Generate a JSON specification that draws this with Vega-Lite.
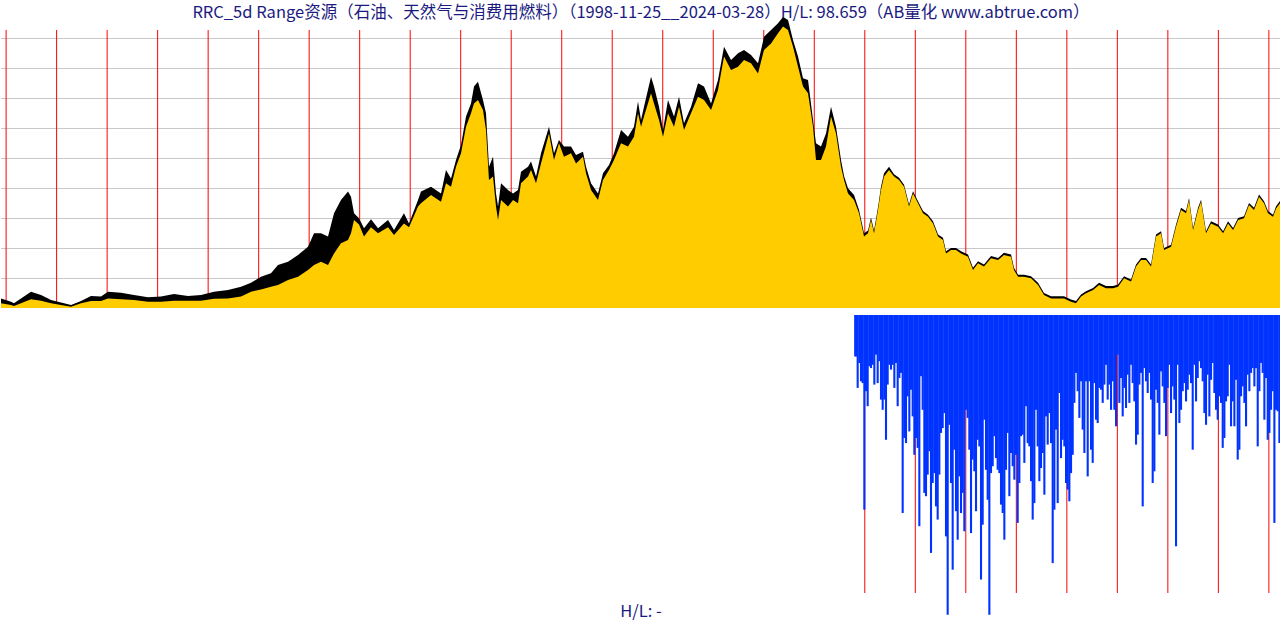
{
  "$schema": "https://vega.github.io/schema/vega-lite/v6.json",
  "padding": 0,
  "autosize": {"type": "pad"},
  "background": "white",
  "spacing": 4,
  "config": {"view": {"stroke": null}, "font": "Noto Sans CJK SC"},
  "datasets": {
    "grid": [{"v":10},{"v":20},{"v":30},{"v":40},{"v":50},{"v":60},{"v":70},{"v":80},{"v":90}],
    "years": [{"y":1999},{"y":2000},{"y":2001},{"y":2002},{"y":2003},{"y":2004},{"y":2005},{"y":2006},{"y":2007},{"y":2008},{"y":2009},{"y":2010},{"y":2011},{"y":2012},{"y":2013},{"y":2014},{"y":2015},{"y":2016},{"y":2017},{"y":2018},{"y":2019},{"y":2020},{"y":2021},{"y":2022},{"y":2023},{"y":2024}],
    "price": [
      {"t":1998.899,"c":1.6,"h":3.2},{"t":1999.097,"c":1.0,"h":2.1},{"t":1999.156,"c":0.7,"h":1.6},{"t":1999.295,"c":1.6,"h":3.2},{"t":1999.493,"c":2.9,"h":5.4},{"t":1999.691,"c":2.4,"h":4.3},{"t":1999.889,"c":1.6,"h":2.7},{"t":2000.087,"c":1.0,"h":1.8},{"t":2000.285,"c":0.4,"h":1.0},{"t":2000.483,"c":1.6,"h":2.3},{"t":2000.681,"c":2.3,"h":4.0},{"t":2000.879,"c":2.3,"h":3.8},{"t":2001.017,"c":3.2,"h":5.4},{"t":2001.275,"c":2.9,"h":5.1},{"t":2001.532,"c":2.7,"h":4.3},{"t":2001.809,"c":2.1,"h":3.6},{"t":2002.067,"c":2.1,"h":3.8},{"t":2002.324,"c":2.4,"h":4.7},{"t":2002.601,"c":2.4,"h":4.0},{"t":2002.859,"c":2.4,"h":4.3},{"t":2003.116,"c":3.1,"h":5.4},{"t":2003.393,"c":3.2,"h":6.0},{"t":2003.651,"c":3.8,"h":7.1},{"t":2003.849,"c":5.4,"h":8.4},{"t":2004.046,"c":6.2,"h":10.4},{"t":2004.244,"c":7.1,"h":11.6},{"t":2004.383,"c":7.7,"h":14.3},{"t":2004.581,"c":9.3,"h":15.4},{"t":2004.779,"c":10.4,"h":17.7},{"t":2004.977,"c":12.7,"h":20.4},{"t":2005.096,"c":14.3,"h":24.9},{"t":2005.234,"c":15.4,"h":24.9},{"t":2005.373,"c":14.3,"h":23.8},{"t":2005.492,"c":18.2,"h":31.6},{"t":2005.630,"c":21.6,"h":36.0},{"t":2005.769,"c":22.7,"h":38.8},{"t":2005.828,"c":24.9,"h":37.1},{"t":2005.888,"c":29.3,"h":31.6},{"t":2005.987,"c":27.8,"h":29.9},{"t":2006.086,"c":23.8,"h":26.6},{"t":2006.224,"c":26.9,"h":29.6},{"t":2006.363,"c":24.9,"h":26.6},{"t":2006.561,"c":26.9,"h":29.3},{"t":2006.680,"c":24.3,"h":26.0},{"t":2006.877,"c":28.2,"h":31.6},{"t":2006.977,"c":26.9,"h":28.2},{"t":2007.155,"c":33.8,"h":36.0},{"t":2007.214,"c":34.9,"h":38.8},{"t":2007.412,"c":37.7,"h":40.4},{"t":2007.610,"c":35.4,"h":38.2},{"t":2007.709,"c":41.6,"h":46.0},{"t":2007.808,"c":40.4,"h":43.2},{"t":2007.907,"c":47.1,"h":49.3},{"t":2008.006,"c":51.6,"h":54.3},{"t":2008.105,"c":60.4,"h":63.8},{"t":2008.204,"c":64.9,"h":68.2},{"t":2008.263,"c":68.2,"h":73.8},{"t":2008.342,"c":69.3,"h":75.4},{"t":2008.441,"c":66.0,"h":69.3},{"t":2008.501,"c":59.3,"h":64.9},{"t":2008.560,"c":42.7,"h":47.1},{"t":2008.640,"c":43.8,"h":50.4},{"t":2008.699,"c":33.8,"h":38.2},{"t":2008.739,"c":29.3,"h":33.8},{"t":2008.798,"c":36.0,"h":41.6},{"t":2008.937,"c":33.8,"h":39.3},{"t":2009.036,"c":36.0,"h":38.2},{"t":2009.134,"c":34.9,"h":39.3},{"t":2009.194,"c":41.6,"h":45.4},{"t":2009.333,"c":43.8,"h":47.1},{"t":2009.392,"c":46.0,"h":48.8},{"t":2009.491,"c":41.6,"h":43.8},{"t":2009.590,"c":48.2,"h":51.6},{"t":2009.748,"c":58.2,"h":60.4},{"t":2009.847,"c":49.3,"h":51.6},{"t":2009.946,"c":54.9,"h":56.0},{"t":2010.045,"c":50.4,"h":53.8},{"t":2010.184,"c":51.6,"h":53.8},{"t":2010.283,"c":48.2,"h":51.0},{"t":2010.421,"c":50.4,"h":52.1},{"t":2010.481,"c":44.9,"h":47.1},{"t":2010.580,"c":39.3,"h":41.6},{"t":2010.718,"c":36.0,"h":38.2},{"t":2010.817,"c":42.7,"h":44.9},{"t":2010.936,"c":46.0,"h":47.7},{"t":2011.035,"c":49.3,"h":51.6},{"t":2011.174,"c":54.9,"h":59.3},{"t":2011.312,"c":53.8,"h":57.1},{"t":2011.431,"c":57.1,"h":60.4},{"t":2011.510,"c":64.9,"h":68.8},{"t":2011.570,"c":60.4,"h":62.7},{"t":2011.629,"c":63.8,"h":67.1},{"t":2011.768,"c":71.6,"h":77.1},{"t":2011.827,"c":68.2,"h":73.8},{"t":2011.926,"c":62.7,"h":67.1},{"t":2012.005,"c":57.1,"h":59.3},{"t":2012.104,"c":64.9,"h":69.3},{"t":2012.223,"c":60.4,"h":63.8},{"t":2012.322,"c":67.1,"h":70.4},{"t":2012.421,"c":59.3,"h":61.6},{"t":2012.560,"c":64.9,"h":67.1},{"t":2012.698,"c":70.4,"h":74.9},{"t":2012.817,"c":69.3,"h":73.8},{"t":2012.956,"c":66.0,"h":68.2},{"t":2013.094,"c":72.7,"h":76.0},{"t":2013.213,"c":83.8,"h":87.1},{"t":2013.352,"c":79.3,"h":82.7},{"t":2013.490,"c":80.4,"h":84.9},{"t":2013.609,"c":82.7,"h":86.0},{"t":2013.748,"c":81.6,"h":84.3},{"t":2013.886,"c":78.2,"h":81.6},{"t":2014.005,"c":86.0,"h":90.4},{"t":2014.144,"c":88.2,"h":92.7},{"t":2014.282,"c":91.6,"h":94.9},{"t":2014.381,"c":93.8,"h":97.0},{"t":2014.480,"c":92.7,"h":96.0},{"t":2014.579,"c":87.1,"h":89.3},{"t":2014.678,"c":80.4,"h":83.8},{"t":2014.777,"c":73.8,"h":76.6},{"t":2014.876,"c":71.6,"h":76.0},{"t":2014.975,"c":60.4,"h":62.7},{"t":2015.034,"c":49.3,"h":54.9},{"t":2015.133,"c":49.3,"h":53.8},{"t":2015.232,"c":53.8,"h":58.2},{"t":2015.331,"c":63.8,"h":67.1},{"t":2015.430,"c":58.2,"h":60.4},{"t":2015.529,"c":47.1,"h":49.3},{"t":2015.589,"c":42.7,"h":44.0},{"t":2015.668,"c":38.2,"h":39.9},{"t":2015.787,"c":36.0,"h":37.7},{"t":2015.886,"c":31.6,"h":32.7},{"t":2015.985,"c":23.8,"h":24.9},{"t":2016.064,"c":24.9,"h":25.8},{"t":2016.123,"c":29.3,"h":30.2},{"t":2016.183,"c":24.9,"h":25.8},{"t":2016.262,"c":32.7,"h":33.6},{"t":2016.321,"c":39.3,"h":40.4},{"t":2016.381,"c":43.8,"h":44.9},{"t":2016.480,"c":46.0,"h":47.1},{"t":2016.579,"c":43.8,"h":44.6},{"t":2016.678,"c":42.7,"h":43.4},{"t":2016.777,"c":40.4,"h":41.1},{"t":2016.876,"c":33.8,"h":34.5},{"t":2016.955,"c":38.2,"h":38.9},{"t":2017.054,"c":34.9,"h":35.6},{"t":2017.153,"c":31.6,"h":32.3},{"t":2017.252,"c":30.4,"h":31.1},{"t":2017.351,"c":28.2,"h":28.9},{"t":2017.450,"c":23.8,"h":24.5},{"t":2017.548,"c":22.7,"h":23.4},{"t":2017.608,"c":18.2,"h":18.9},{"t":2017.707,"c":19.3,"h":20.0},{"t":2017.806,"c":19.3,"h":20.0},{"t":2017.905,"c":18.2,"h":18.9},{"t":2018.043,"c":17.1,"h":17.8},{"t":2018.142,"c":12.7,"h":13.4},{"t":2018.241,"c":14.9,"h":15.6},{"t":2018.360,"c":13.8,"h":14.5},{"t":2018.499,"c":16.6,"h":17.3},{"t":2018.638,"c":16.0,"h":16.7},{"t":2018.756,"c":17.7,"h":18.4},{"t":2018.895,"c":17.1,"h":17.8},{"t":2018.954,"c":12.7,"h":13.4},{"t":2019.034,"c":10.4,"h":11.1},{"t":2019.152,"c":10.4,"h":11.1},{"t":2019.291,"c":9.9,"h":10.6},{"t":2019.430,"c":7.7,"h":8.4},{"t":2019.548,"c":4.3,"h":5.0},{"t":2019.687,"c":3.2,"h":3.9},{"t":2019.826,"c":3.2,"h":3.9},{"t":2019.944,"c":3.2,"h":3.9},{"t":2020.083,"c":2.1,"h":2.8},{"t":2020.182,"c":1.6,"h":2.3},{"t":2020.281,"c":3.8,"h":4.5},{"t":2020.380,"c":4.9,"h":5.6},{"t":2020.519,"c":6.0,"h":6.7},{"t":2020.638,"c":7.7,"h":8.4},{"t":2020.776,"c":6.6,"h":7.3},{"t":2020.915,"c":6.6,"h":7.3},{"t":2021.014,"c":7.1,"h":7.8},{"t":2021.133,"c":9.9,"h":10.6},{"t":2021.271,"c":8.8,"h":9.5},{"t":2021.370,"c":13.8,"h":14.5},{"t":2021.469,"c":16.0,"h":16.7},{"t":2021.568,"c":16.0,"h":16.7},{"t":2021.667,"c":13.8,"h":14.5},{"t":2021.766,"c":23.8,"h":24.5},{"t":2021.865,"c":24.9,"h":25.6},{"t":2021.925,"c":19.3,"h":20.0},{"t":2022.063,"c":20.4,"h":21.1},{"t":2022.162,"c":27.1,"h":27.8},{"t":2022.261,"c":32.7,"h":33.4},{"t":2022.360,"c":31.6,"h":32.3},{"t":2022.419,"c":36.0,"h":36.7},{"t":2022.499,"c":26.0,"h":26.7},{"t":2022.598,"c":32.7,"h":33.4},{"t":2022.657,"c":35.4,"h":36.1},{"t":2022.756,"c":24.9,"h":25.6},{"t":2022.855,"c":28.2,"h":28.9},{"t":2022.994,"c":27.1,"h":27.8},{"t":2023.093,"c":24.9,"h":25.6},{"t":2023.192,"c":28.2,"h":28.9},{"t":2023.291,"c":26.0,"h":26.7},{"t":2023.390,"c":29.3,"h":30.0},{"t":2023.508,"c":29.9,"h":30.6},{"t":2023.607,"c":34.3,"h":35.0},{"t":2023.706,"c":32.7,"h":33.4},{"t":2023.805,"c":37.1,"h":37.8},{"t":2023.904,"c":34.9,"h":35.6},{"t":2023.983,"c":31.6,"h":32.3},{"t":2024.082,"c":30.4,"h":31.1},{"t":2024.142,"c":33.2,"h":33.9},{"t":2024.240,"c":35.4,"h":36.1}
    ],
    "range": [
      {"t":2015.810,"d":13.8},{"t":2015.826,"d":13.8},{"t":2015.859,"d":24.3},{"t":2015.892,"d":16.0},{"t":2015.925,"d":22.1},{"t":2015.958,"d":22.7},{"t":2015.991,"d":64.9},{"t":2016.024,"d":25.4},{"t":2016.057,"d":30.4},{"t":2016.090,"d":17.1},{"t":2016.123,"d":17.7},{"t":2016.156,"d":16.6},{"t":2016.189,"d":23.2},{"t":2016.222,"d":13.2},{"t":2016.255,"d":22.7},{"t":2016.288,"d":15.4},{"t":2016.321,"d":28.2},{"t":2016.354,"d":31.6},{"t":2016.387,"d":28.2},{"t":2016.420,"d":41.6},{"t":2016.453,"d":23.2},{"t":2016.486,"d":16.6},{"t":2016.519,"d":18.2},{"t":2016.552,"d":16.6},{"t":2016.585,"d":24.3},{"t":2016.618,"d":16.0},{"t":2016.651,"d":30.4},{"t":2016.684,"d":21.0},{"t":2016.717,"d":19.3},{"t":2016.750,"d":66.0},{"t":2016.783,"d":41.0},{"t":2016.816,"d":42.7},{"t":2016.849,"d":27.1},{"t":2016.882,"d":38.8},{"t":2016.915,"d":24.9},{"t":2016.948,"d":33.8},{"t":2016.981,"d":46.6},{"t":2017.014,"d":41.0},{"t":2017.047,"d":44.3},{"t":2017.080,"d":70.4},{"t":2017.113,"d":20.4},{"t":2017.146,"d":31.6},{"t":2017.179,"d":59.3},{"t":2017.212,"d":60.4},{"t":2017.245,"d":53.2},{"t":2017.278,"d":45.4},{"t":2017.311,"d":79.3},{"t":2017.344,"d":56.0},{"t":2017.377,"d":52.7},{"t":2017.410,"d":63.8},{"t":2017.443,"d":68.2},{"t":2017.476,"d":53.2},{"t":2017.509,"d":39.3},{"t":2017.542,"d":37.7},{"t":2017.575,"d":32.7},{"t":2017.608,"d":73.8},{"t":2017.641,"d":99.9},{"t":2017.674,"d":36.6},{"t":2017.707,"d":56.0},{"t":2017.740,"d":84.9},{"t":2017.773,"d":44.9},{"t":2017.806,"d":65.4},{"t":2017.839,"d":74.9},{"t":2017.872,"d":53.8},{"t":2017.905,"d":66.0},{"t":2017.938,"d":59.3},{"t":2017.971,"d":72.1},{"t":2018.004,"d":31.6},{"t":2018.037,"d":34.3},{"t":2018.070,"d":44.9},{"t":2018.103,"d":72.7},{"t":2018.136,"d":48.2},{"t":2018.169,"d":52.1},{"t":2018.202,"d":65.4},{"t":2018.235,"d":41.6},{"t":2018.268,"d":43.8},{"t":2018.301,"d":88.2},{"t":2018.334,"d":69.9},{"t":2018.367,"d":34.9},{"t":2018.400,"d":51.6},{"t":2018.433,"d":61.6},{"t":2018.466,"d":99.9},{"t":2018.499,"d":52.7},{"t":2018.532,"d":50.4},{"t":2018.565,"d":40.4},{"t":2018.598,"d":47.7},{"t":2018.631,"d":51.6},{"t":2018.664,"d":52.7},{"t":2018.697,"d":63.2},{"t":2018.730,"d":66.0},{"t":2018.763,"d":74.9},{"t":2018.796,"d":51.6},{"t":2018.829,"d":39.3},{"t":2018.862,"d":60.4},{"t":2018.895,"d":46.0},{"t":2018.928,"d":50.4},{"t":2018.961,"d":54.9},{"t":2018.994,"d":46.6},{"t":2019.027,"d":69.3},{"t":2019.060,"d":56.0},{"t":2019.093,"d":40.4},{"t":2019.126,"d":39.9},{"t":2019.159,"d":49.3},{"t":2019.192,"d":30.4},{"t":2019.225,"d":42.7},{"t":2019.258,"d":43.8},{"t":2019.291,"d":55.4},{"t":2019.324,"d":68.2},{"t":2019.357,"d":62.7},{"t":2019.390,"d":31.6},{"t":2019.423,"d":43.8},{"t":2019.456,"d":55.4},{"t":2019.489,"d":51.0},{"t":2019.522,"d":46.0},{"t":2019.555,"d":59.9},{"t":2019.588,"d":33.8},{"t":2019.621,"d":43.2},{"t":2019.654,"d":32.7},{"t":2019.687,"d":42.7},{"t":2019.720,"d":82.7},{"t":2019.753,"d":64.9},{"t":2019.786,"d":38.2},{"t":2019.819,"d":62.7},{"t":2019.852,"d":26.0},{"t":2019.885,"d":47.7},{"t":2019.918,"d":41.6},{"t":2019.951,"d":43.8},{"t":2019.984,"d":56.0},{"t":2020.017,"d":58.2},{"t":2020.050,"d":62.1},{"t":2020.083,"d":52.7},{"t":2020.116,"d":46.6},{"t":2020.149,"d":29.3},{"t":2020.182,"d":19.3},{"t":2020.215,"d":25.4},{"t":2020.248,"d":34.3},{"t":2020.281,"d":22.1},{"t":2020.314,"d":38.2},{"t":2020.347,"d":46.0},{"t":2020.380,"d":22.1},{"t":2020.413,"d":53.8},{"t":2020.446,"d":22.1},{"t":2020.479,"d":44.9},{"t":2020.512,"d":49.3},{"t":2020.545,"d":22.7},{"t":2020.578,"d":34.9},{"t":2020.611,"d":36.0},{"t":2020.644,"d":24.3},{"t":2020.677,"d":24.9},{"t":2020.710,"d":29.3},{"t":2020.743,"d":23.2},{"t":2020.776,"d":16.6},{"t":2020.809,"d":28.2},{"t":2020.842,"d":23.2},{"t":2020.875,"d":31.6},{"t":2020.908,"d":22.1},{"t":2020.941,"d":31.6},{"t":2020.974,"d":37.1},{"t":2021.007,"d":13.2},{"t":2021.040,"d":29.3},{"t":2021.073,"d":21.0},{"t":2021.106,"d":33.8},{"t":2021.139,"d":24.3},{"t":2021.172,"d":31.0},{"t":2021.205,"d":19.9},{"t":2021.238,"d":29.3},{"t":2021.271,"d":16.6},{"t":2021.304,"d":22.7},{"t":2021.337,"d":28.8},{"t":2021.370,"d":43.2},{"t":2021.403,"d":39.9},{"t":2021.436,"d":23.2},{"t":2021.469,"d":19.3},{"t":2021.502,"d":63.8},{"t":2021.535,"d":17.7},{"t":2021.568,"d":22.1},{"t":2021.601,"d":26.0},{"t":2021.634,"d":19.3},{"t":2021.667,"d":28.2},{"t":2021.700,"d":56.0},{"t":2021.733,"d":52.1},{"t":2021.766,"d":24.9},{"t":2021.799,"d":29.3},{"t":2021.832,"d":39.9},{"t":2021.865,"d":18.8},{"t":2021.898,"d":23.8},{"t":2021.931,"d":29.3},{"t":2021.964,"d":40.4},{"t":2021.997,"d":24.3},{"t":2022.030,"d":16.6},{"t":2022.063,"d":32.7},{"t":2022.096,"d":23.8},{"t":2022.129,"d":28.2},{"t":2022.162,"d":77.1},{"t":2022.195,"d":16.6},{"t":2022.228,"d":36.0},{"t":2022.261,"d":31.6},{"t":2022.294,"d":25.4},{"t":2022.327,"d":22.7},{"t":2022.360,"d":28.8},{"t":2022.393,"d":24.9},{"t":2022.426,"d":19.9},{"t":2022.459,"d":22.7},{"t":2022.492,"d":44.9},{"t":2022.525,"d":16.6},{"t":2022.558,"d":28.8},{"t":2022.591,"d":21.0},{"t":2022.624,"d":15.4},{"t":2022.657,"d":17.7},{"t":2022.690,"d":22.1},{"t":2022.723,"d":32.7},{"t":2022.756,"d":36.6},{"t":2022.789,"d":19.9},{"t":2022.822,"d":33.8},{"t":2022.855,"d":21.6},{"t":2022.888,"d":16.0},{"t":2022.921,"d":26.0},{"t":2022.954,"d":31.6},{"t":2022.987,"d":34.9},{"t":2023.020,"d":27.1},{"t":2023.053,"d":29.3},{"t":2023.086,"d":44.3},{"t":2023.119,"d":41.0},{"t":2023.152,"d":28.8},{"t":2023.185,"d":27.1},{"t":2023.218,"d":16.6},{"t":2023.251,"d":37.1},{"t":2023.284,"d":28.8},{"t":2023.317,"d":37.1},{"t":2023.350,"d":21.6},{"t":2023.383,"d":48.2},{"t":2023.416,"d":44.9},{"t":2023.449,"d":27.1},{"t":2023.482,"d":23.8},{"t":2023.515,"d":29.3},{"t":2023.548,"d":37.1},{"t":2023.581,"d":19.9},{"t":2023.614,"d":25.4},{"t":2023.647,"d":19.3},{"t":2023.680,"d":17.7},{"t":2023.713,"d":23.8},{"t":2023.746,"d":17.7},{"t":2023.779,"d":43.8},{"t":2023.812,"d":25.4},{"t":2023.845,"d":16.0},{"t":2023.878,"d":19.3},{"t":2023.911,"d":34.9},{"t":2023.944,"d":21.0},{"t":2023.977,"d":41.6},{"t":2024.010,"d":39.3},{"t":2024.043,"d":31.6},{"t":2024.076,"d":25.4},{"t":2024.109,"d":69.3},{"t":2024.142,"d":31.6},{"t":2024.175,"d":32.1},{"t":2024.208,"d":42.7},{"t":2024.230,"d":42.7}
    ]
  },
  "vconcat": [
    {
      "width": 1280,
      "height": 308,
      "title": {"text": "RRC_5d Range资源（石油、天然气与消费用燃料）（1998-11-25__2024-03-28）H/L: 98.659（AB量化  www.abtrue.com）", "offset": -21, "fontSize": 16.5, "fontWeight": "normal", "color": "#1a1a80", "anchor": "middle", "font": "Noto Sans CJK SC"},
      "layer": [
        {
          "data": {"name": "grid"},
          "mark": {"type": "rule", "color": "#c8c8c8", "strokeWidth": 1, "yOffset": 0.5},
          "encoding": {
            "y": {"field": "v", "type": "quantitative", "scale": {"domain": [0, 102.67], "nice": false, "zero": true}, "axis": null}
          }
        },
        {
          "data": {"name": "years"},
          "mark": {"type": "rule", "color": "#ff0000", "strokeWidth": 1},
          "encoding": {
            "x": {"field": "y", "type": "quantitative", "scale": {"domain": [1998.899, 2024.24], "nice": false, "zero": false}, "axis": null},
            "y": {"datum": 92.67, "type": "quantitative", "axis": null},
            "y2": {"datum": 0}
          }
        },
        {
          "data": {"name": "price"},
          "mark": {"type": "area", "color": "#000000"},
          "encoding": {
            "x": {"field": "t", "type": "quantitative", "axis": null},
            "y": {"field": "h", "type": "quantitative", "axis": null}
          }
        },
        {
          "data": {"name": "price"},
          "mark": {"type": "area", "color": "#ffcc00"},
          "encoding": {
            "x": {"field": "t", "type": "quantitative", "axis": null},
            "y": {"field": "c", "type": "quantitative", "axis": null}
          }
        }
      ]
    },
    {
      "width": 1280,
      "height": 308,
      "title": {"text": "H/L: -", "orient": "bottom", "offset": -19, "fontSize": 16.5, "fontWeight": "normal", "color": "#1a1a80", "anchor": "middle", "font": "Noto Sans CJK SC"},
      "layer": [
        {
          "data": {"name": "years"},
          "transform": [{"filter": "datum.y >= 2016"}],
          "mark": {"type": "rule", "color": "#ff0000", "strokeWidth": 1},
          "encoding": {
            "x": {"field": "y", "type": "quantitative", "scale": {"domain": [1998.899, 2024.24], "nice": false, "zero": false}, "axis": null},
            "y": {"datum": 92.67, "type": "quantitative", "scale": {"domain": [0, 102.67], "nice": false, "reverse": true}, "axis": null},
            "y2": {"datum": 0}
          }
        },
        {
          "data": {"name": "range"},
          "mark": {"type": "rule", "color": "#0033ff", "strokeWidth": 2.1},
          "encoding": {
            "x": {"field": "t", "type": "quantitative", "axis": null},
            "y": {"field": "d", "type": "quantitative", "axis": null},
            "y2": {"datum": 0}
          }
        }
      ]
    }
  ]
}
